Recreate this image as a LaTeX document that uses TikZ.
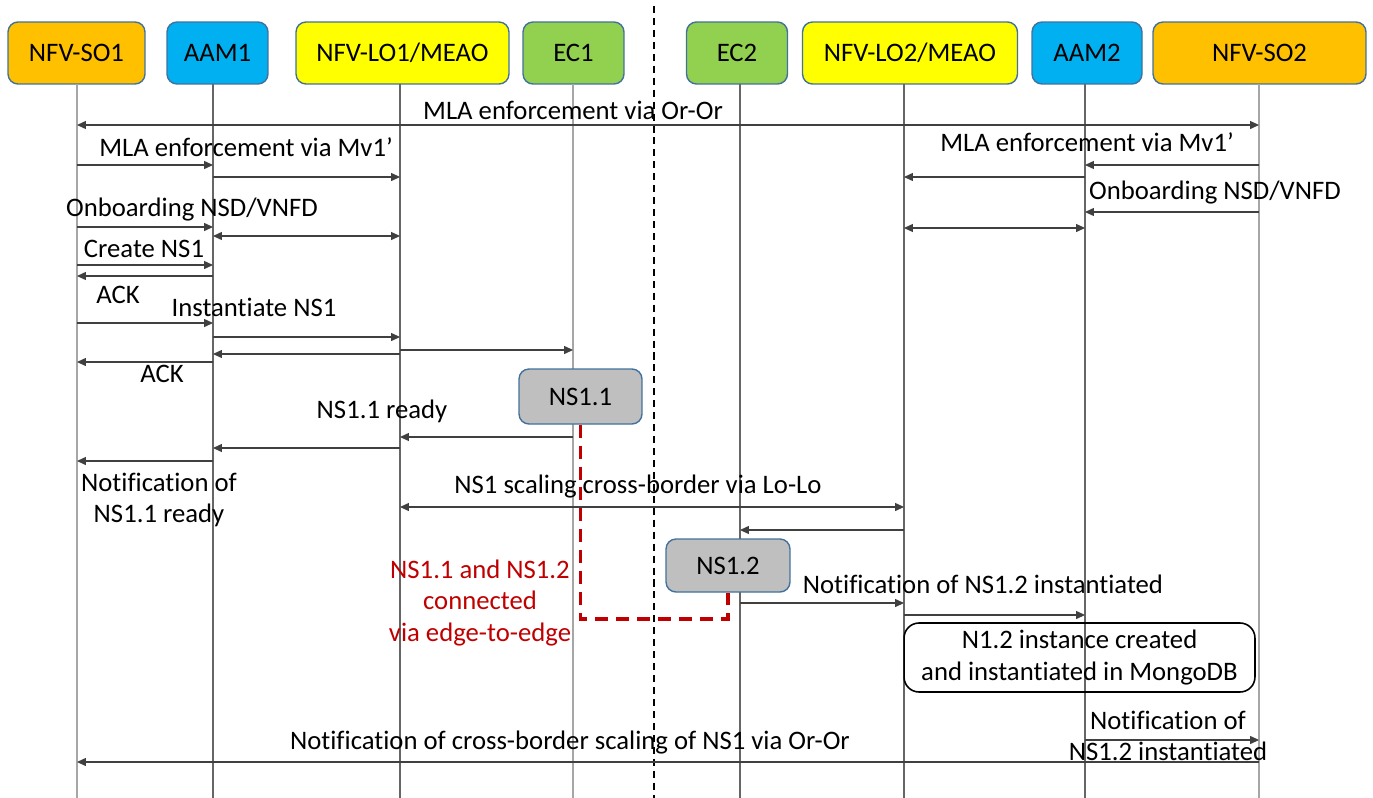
\documentclass[tikz,border=0pt]{standalone}
\usepackage{fontspec}
\setmainfont{Carlito}[RawFeature=-liga]
\usetikzlibrary{arrows.meta}
\definecolor{cOrange}{HTML}{FFC000}
\definecolor{cBlue}{HTML}{00B0F0}
\definecolor{cYellow}{HTML}{FFFF00}
\definecolor{cGreen}{HTML}{92D050}
\definecolor{cGray}{HTML}{BFBFBF}
\definecolor{cBorder}{HTML}{41719C}
\definecolor{cRed}{HTML}{C00000}
\begin{document}
\begin{tikzpicture}[x=0.02cm,y=-0.02cm,
  font=\fontsize{15.2}{18}\selectfont,
  hdr/.style={draw=cBorder,line width=0.8pt,rounded corners=0.2cm,minimum height=1.24cm,inner sep=0pt},
  nsbox/.style={draw=cBorder,fill=cGray,line width=0.8pt,rounded corners=0.2cm,inner sep=0pt},
  life/.style={draw=black!60,line width=0.6pt},
  lifeg/.style={draw=black!35,line width=1.1pt},
  msg/.style={draw=black!75,line width=0.6pt},
  tip/.tip={Triangle[length=5pt,width=4.5pt]},
  ra/.style={msg,-tip},
  la/.style={msg,tip-},
  ba/.style={msg,tip-tip},
  txt/.style={inner sep=0pt,align=center},
  redtxt/.style={txt,text=cRed},
  reddash/.style={draw=cRed,line width=2.1pt,dash pattern=on 7.4pt off 4.5pt},
  sep/.style={draw=black,line width=1.1pt,dash pattern=on 4pt off 2.8pt}
]
\useasboundingbox (0,0) rectangle (1373,798);

% header boxes
\node[hdr,fill=cOrange,minimum width=2.74cm] (so1box) at (76.5,53) {NFV-SO1};
\node[hdr,fill=cBlue,minimum width=2.02cm] (aam1box) at (217.5,53) {AAM1};
\node[hdr,fill=cYellow,minimum width=4.26cm] (lo1box) at (402.5,53) {NFV-LO1/MEAO};
\node[hdr,fill=cGreen,minimum width=2.02cm] (ec1box) at (573.5,53) {EC1};
\node[hdr,fill=cGreen,minimum width=2.02cm] (ec2box) at (737,53) {EC2};
\node[hdr,fill=cYellow,minimum width=4.30cm] (lo2box) at (910,53) {NFV-LO2/MEAO};
\node[hdr,fill=cBlue,minimum width=2.20cm] (aam2box) at (1087,53) {AAM2};
\node[hdr,fill=cOrange,minimum width=4.26cm] (so2box) at (1259.5,53) {NFV-SO2};

% lifeline tops
\coordinate (so1) at (77,84);
\coordinate (aam1) at (213,84);
\coordinate (lo1) at (400,84);
\coordinate (ec1) at (573,84);
\coordinate (ec2) at (740,84);
\coordinate (lo2) at (904,84);
\coordinate (aam2) at (1085,84);
\coordinate (so2) at (1259,84);

% lifelines
\draw[lifeg] (so1) -- (so1 |- 0,798);
\draw[life] (aam1) -- (aam1 |- 0,798);
\draw[life] (lo1) -- (lo1 |- 0,798);
\draw[lifeg] (ec1) -- (ec1 |- 0,798);
\draw[life] (ec2) -- (ec2 |- 0,798);
\draw[life] (lo2) -- (lo2 |- 0,798);
\draw[life] (aam2) -- (aam2 |- 0,798);
\draw[lifeg] (so2) -- (so2 |- 0,798);

% separator
\coordinate (septop) at (654,6);
\draw[sep] (septop) -- (septop |- 0,798);

% Or-Or MLA
\node[txt] (t1) at (573,110) {MLA enforcement via Or-Or};
\draw[ba] (so1 |- 0,125) -- (so2 |- 0,125);

% left Mv1'
\node[txt] (t2) at (246,147) {MLA enforcement via Mv1’};
\draw[ra] (so1 |- 0,165) -- (aam1 |- 0,165);
\draw[ra] (aam1 |- 0,177) -- (lo1 |- 0,177);

% right Mv1'
\node[txt] (t3) at (1087,142) {MLA enforcement via Mv1’};
\draw[la] (aam2 |- 0,165) -- (so2 |- 0,165);
\draw[la] (lo2 |- 0,177) -- (aam2 |- 0,177);

% onboarding left
\node[txt] (t4) at (192,210) {Onboarding NSD/VNFD};
\draw[ra] (so1 |- 0,227) -- (aam1 |- 0,227);
\draw[ba] (aam1 |- 0,236) -- (lo1 |- 0,236);

% onboarding right
\node[txt] (t5) at (1215,193) {Onboarding NSD/VNFD};
\draw[la] (aam2 |- 0,212) -- (so2 |- 0,212);
\draw[ba] (lo2 |- 0,228) -- (aam2 |- 0,228);

% create NS1
\node[txt] (t6) at (144,249) {Create NS1};
\draw[ra] (so1 |- 0,265) -- (aam1 |- 0,265);
\draw[la] (so1 |- 0,276) -- (aam1 |- 0,276);
\node[txt] (t7) at (118,295) {ACK};

% instantiate NS1
\node[txt] (t8) at (254,307) {Instantiate NS1};
\draw[ra] (so1 |- 0,323) -- (aam1 |- 0,323);
\draw[ra] (aam1 |- 0,337) -- (lo1 |- 0,337);
\draw[ra] (lo1 |- 0,350) -- (ec1 |- 0,350);
\draw[la] (aam1 |- 0,354) -- (lo1 |- 0,354);
\draw[la] (so1 |- 0,362) -- (aam1 |- 0,362);
\node[txt] (t9) at (162,374) {ACK};

% NS1.1
\node[nsbox,minimum width=2.46cm,minimum height=1.10cm] (ns11) at (580.5,396.5) {NS1.1};
\node[txt] (t10) at (382,411) {NS1.1 ready};
\draw[la] (lo1 |- 0,437) -- (ec1 |- 0,437);
\draw[la] (aam1 |- 0,448) -- (lo1 |- 0,448);
\draw[la] (so1 |- 0,461) -- (aam1 |- 0,461);
\node[txt] (t11) at (159,500) {Notification of\\NS1.1 ready};

% Lo-Lo scaling
\node[txt] (t12) at (638,487) {NS1 scaling cross-border via Lo-Lo};
\draw[ba] (lo1 |- 0,507) -- (lo2 |- 0,507);
\draw[la] (ec2 |- 0,530) -- (lo2 |- 0,530);

% NS1.2
\node[nsbox,minimum width=2.48cm,minimum height=1.06cm] (ns12) at (728,565.5) {NS1.2};
\node[redtxt] (t13) at (480,603) {NS1.1 and NS1.2\\connected\\via edge-to-edge};
\draw[reddash] (ns11.south) -- (ns11.south |- 0,619) -| (ns12.south);

\node[txt] (t14) at (983,584) {Notification of NS1.2 instantiated};
\draw[ra] (ec2 |- 0,603) -- (lo2 |- 0,603);
\draw[ra] (lo2 |- 0,615) -- (aam2 |- 0,615);

\node[draw=black,line width=0.9pt,rounded corners=0.3cm,minimum width=7.02cm,minimum height=1.38cm,inner sep=0pt,align=center] (mongo) at (1079.5,657.5) {N1.2 instance created\\and instantiated in MongoDB};

\node[txt] (t15) at (1168,736) {Notification of\\NS1.2 instantiated};
\draw[ra] (aam2 |- 0,740) -- (so2 |- 0,740);

\node[txt] (t16) at (570,743) {Notification of cross-border scaling of NS1 via Or-Or};
\draw[la] (so1 |- 0,762) -- (so2 |- 0,762);
\end{tikzpicture}
\end{document}
